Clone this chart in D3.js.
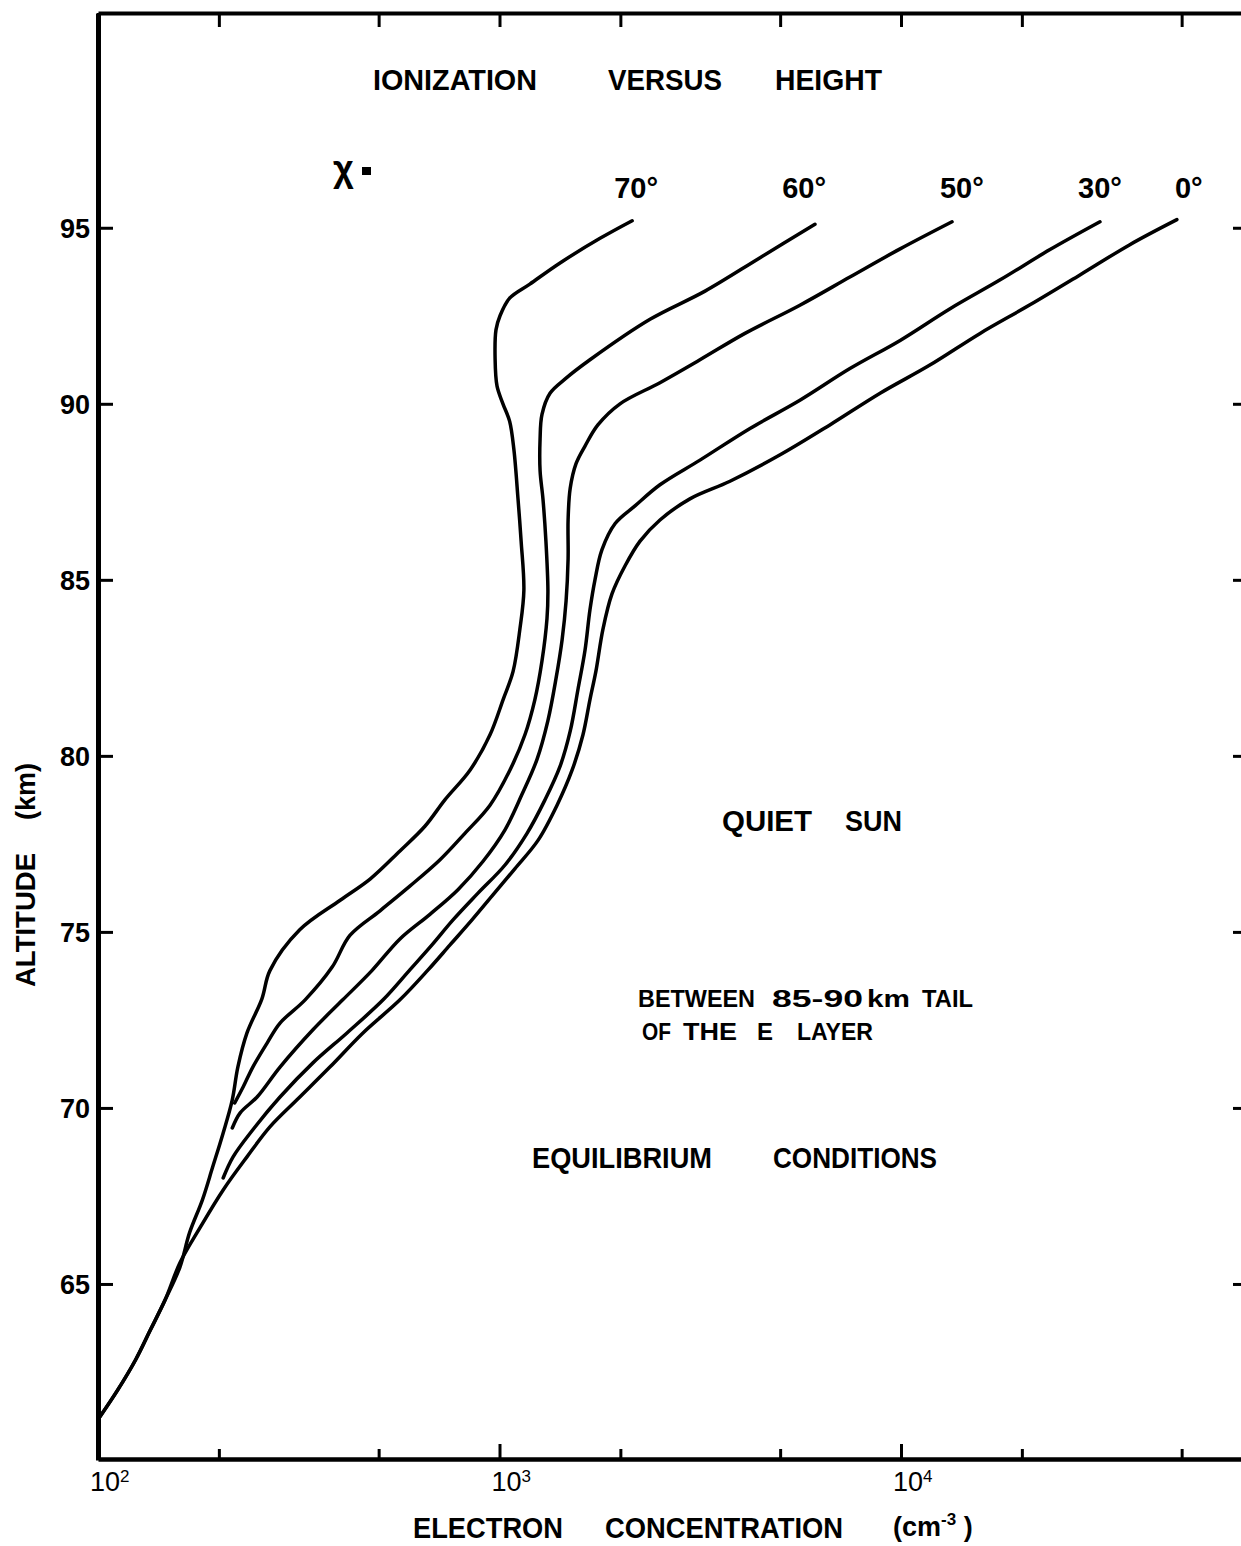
<!DOCTYPE html>
<html>
<head>
<meta charset="utf-8">
<script src="https://cdnjs.cloudflare.com/ajax/libs/d3/7.8.5/d3.min.js"></script>
<style>
body { margin: 0; background: #fff; }
svg text { font-family: "Liberation Sans", Arial, sans-serif; font-weight: bold; fill: #000; }
.axis path, .axis line { stroke: #000; }
</style>
</head>
<body>
<script>

var width = 1241, height = 1546;

// [altitude km, electron concentration cm^-3]
var chi70 = [[95.2,2140],[94.7,1780],[94.0,1415],[93.4,1190],[93.0,1060],[92.5,1003],[92.1,980],
    [91.3,975],[90.5,986],[90.0,1020],[89.5,1060],[88.7,1086],[87.3,1112],[86.1,1132],[84.7,1150],
    [83.6,1124],[82.4,1081],[81.6,1021],[80.6,947],[79.6,845],[78.75,731],[78.0,652],[77.3,565],
    [76.5,476],[75.9,401],[75.06,318],[73.9,268],[73.1,256],[72.13,235],[71.16,223],[70.23,216],
    [69.29,205],[68.32,193],[67.39,182],[66.45,169],[65.48,160],[64.55,147],[63.69,135],[62.84,124],
    [61.99,112],[61.22,101]];
var chi60 = [[95.1,6105],[94.15,4456],[93.2,3250],[92.4,2371],[91.25,1680],[90.7,1455],[90.3,1336],
    [89.7,1276],[89.0,1262],[88.1,1262],[87.3,1283],[86.1,1305],[84.7,1320],[83.9,1313],[82.7,1276],
    [81.6,1225],[80.6,1157],[79.6,1062],[78.6,947],[77.8,820],[77.05,711],[76.3,598],[75.6,504],
    [74.9,424],[74.0,383],[73.07,328],[72.41,284],[71.85,264],[71.16,243],[70.6,230],[70.14,219]];
var chi50 = [[95.17,13400],[94.4,9950],[93.6,7460],[92.8,5600],[92.0,4086],[91.25,3157],[90.6,2510],
    [90.0,1996],[89.4,1758],[88.8,1633],[88.3,1551],[87.6,1500],[86.7,1482],[85.6,1482],[84.4,1465],
    [83.3,1432],[82.2,1383],[81.0,1320],[79.9,1240],[78.9,1137],[77.9,1032],[77.0,909],[76.2,788],
    [75.5,671],[74.8,565],[73.9,481],[73.07,407],[72.22,343],[71.16,284],[70.31,249],[69.86,226],
    [69.43,216]];
var chi30 = [[95.17,31300],[94.38,23500],[93.52,17660],[92.7,13250],[91.8,9950],[91.0,7460],[90.1,5600],
    [89.3,4206],[88.4,3157],[87.7,2510],[87.1,2175],[86.6,1941],[85.85,1799],[85.0,1729],[84.15,1680],
    [83.0,1633],[81.9,1569],[80.7,1500],[79.7,1415],[78.75,1298],[77.8,1171],[76.9,1032],[76.1,884],
    [75.34,766],[74.63,679],[73.92,598],[73.07,513],[72.13,417],[71.28,343],[70.31,284],[69.38,243],
    [68.61,217],[68.01,205]];
var chi0 = [[95.23,48650],[94.52,37150],[93.66,27900],[92.81,20950],[92.0,15740],[91.1,11800],[90.3,8870],
    [89.4,6650],[88.55,5000],[87.8,3750],[87.3,2980],[86.7,2510],[86.1,2239],[85.4,2055],[84.6,1906],
    [83.6,1810],[82.4,1738],[81.6,1680],[80.6,1614],[79.6,1517],[78.6,1391],[77.6,1247],[76.8,1093],
    [76.05,963],[75.34,854],[74.63,753],[73.92,664],[73.07,565],[72.13,457],[71.16,378],[70.23,313],
    [69.46,268],[68.61,235],[67.67,205],[66.62,180],[65.6,160],[64.55,147],[63.69,135],[62.84,124],
    [61.99,112],[61.22,101]];

var chiLabels = ["70°", "60°", "50°", "30°", "0°"];
var chiLabelAt = [1930, 5060, 12500, 27600, 48100];   // concentration where each label starts
var curves = [chi70, chi60, chi50, chi30, chi0];

var yTicks = [65, 70, 75, 80, 85, 90, 95];
var xMajor = [1e2, 1e3, 1e4];
var xMajorExp = ["2", "3", "4"];
var xMinor = [2e2, 5e2, 2e3, 5e3, 2e4, 5e4];

var x = d3.scaleLog().domain([100, 74000]).range([98, 1250]);
var y = d3.scaleLinear().domain([60, 101.1]).range([1460, 13]);

var svg = d3.select("body").append("svg")
    .attr("width", width)
    .attr("height", height);

// axes (ticks point inward on all four sides)
var bottomMajor = svg.append("g").attr("class", "axis")
    .attr("transform", "translate(0,1459)")
    .call(d3.axisBottom(x).tickValues(xMajor).tickSize(-15).tickSizeOuter(0).tickFormat(""));
bottomMajor.select(".domain").attr("stroke-width", 4.5);
bottomMajor.selectAll(".tick line").attr("stroke-width", 3);

svg.append("g").attr("class", "axis")
    .attr("transform", "translate(0,1459)")
    .call(d3.axisBottom(x).tickValues(xMinor).tickSize(-10).tickSizeOuter(0).tickFormat(""))
    .call(function(g) { g.select(".domain").remove(); })
    .selectAll(".tick line").attr("stroke-width", 3);

var topAxis = svg.append("g").attr("class", "axis")
    .attr("transform", "translate(0,13)")
    .call(d3.axisTop(x).tickValues(xMajor.concat(xMinor)).tickSize(-14).tickSizeOuter(0).tickFormat(""));
topAxis.select(".domain").attr("stroke-width", 4);
topAxis.selectAll(".tick line").attr("stroke-width", 3);

var leftAxis = svg.append("g").attr("class", "axis")
    .attr("transform", "translate(98,0)")
    .call(d3.axisLeft(y).tickValues(yTicks).tickSize(-15).tickSizeOuter(0).tickPadding(8));
leftAxis.select(".domain").attr("stroke-width", 5);
leftAxis.selectAll(".tick line").attr("stroke-width", 3);
leftAxis.selectAll(".tick text")
    .style("font-size", "27px")
    .attr("dy", "0.36em");

svg.append("g").attr("class", "axis")
    .attr("transform", "translate(1250,0)")
    .call(d3.axisRight(y).tickValues(yTicks).tickSize(-17).tickSizeOuter(0).tickFormat(""))
    .selectAll(".tick line").attr("stroke-width", 3);

// power-of-ten labels on the x axis
var xl = svg.append("g").selectAll("text")
    .data(xMajor)
    .enter().append("text")
    .attr("x", function(d) { return x(d) - 8; })
    .attr("y", 1491)
    .style("font-size", "27px")
    .style("font-weight", "normal")
    .text("10");
xl.append("tspan")
    .attr("dy", -9)
    .style("font-size", "17px")
    .text(function(d, i) { return xMajorExp[i]; });

// curves
var line = d3.line()
    .x(function(d) { return x(d[1]); })
    .y(function(d) { return y(d[0]); })
    .curve(d3.curveCatmullRom.alpha(0.5));

svg.append("g").selectAll("path")
    .data(curves)
    .enter().append("path")
    .attr("d", line)
    .attr("fill", "none")
    .attr("stroke", "#000")
    .attr("stroke-width", 3.5)
    .attr("stroke-linecap", "round")
    .attr("stroke-linejoin", "round");

svg.append("g").selectAll("text")
    .data(chiLabels)
    .enter().append("text")
    .attr("x", function(d, i) { return x(chiLabelAt[i]); })
    .attr("y", 198)
    .style("font-size", "29px")
    .text(function(d) { return d; });

// annotations
function word(str, px, py, size, len) {
    var t = svg.append("text")
        .attr("x", px).attr("y", py)
        .style("font-size", size + "px")
        .text(str);
    if (len) t.attr("textLength", len).attr("lengthAdjust", "spacingAndGlyphs");
    return t;
}

word("IONIZATION", 373, 90, 30, 164);
word("VERSUS", 608, 90, 30, 114);
word("HEIGHT", 775, 90, 30, 107);

word("χ", 333, 181, 36);
svg.append("rect").attr("x", 362).attr("y", 167).attr("width", 9).attr("height", 8).attr("fill", "#000");

word("QUIET", 722, 831, 29, 90);
word("SUN", 845, 831, 29, 57);

word("BETWEEN", 638, 1007, 23, 117);
word("85-90", 772, 1007, 23, 91);
word("km", 867, 1007, 23, 43);
word("TAIL", 922, 1007, 23, 51);
word("OF", 642, 1040, 23, 29);
word("THE", 683, 1040, 23, 54);
word("E", 757, 1040, 23, 16);
word("LAYER", 797, 1040, 23, 76);

word("EQUILIBRIUM", 532, 1168, 30, 180);
word("CONDITIONS", 773, 1168, 30, 164);

word("ELECTRON", 413, 1538, 29, 150);
word("CONCENTRATION", 605, 1538, 29, 238);
var unit = word("(cm", 893, 1536, 27);
unit.append("tspan").attr("dy", -11).style("font-size", "17px").text("-3");
unit.append("tspan").attr("dy", 11).text(" )");

svg.append("text")
    .attr("transform", "translate(35,987) rotate(-90)")
    .style("font-size", "28px")
    .attr("textLength", 134).attr("lengthAdjust", "spacingAndGlyphs")
    .text("ALTITUDE");
svg.append("text")
    .attr("transform", "translate(35,820) rotate(-90)")
    .style("font-size", "28px")
    .attr("textLength", 57).attr("lengthAdjust", "spacingAndGlyphs")
    .text("(km)");

</script>
</body>
</html>
